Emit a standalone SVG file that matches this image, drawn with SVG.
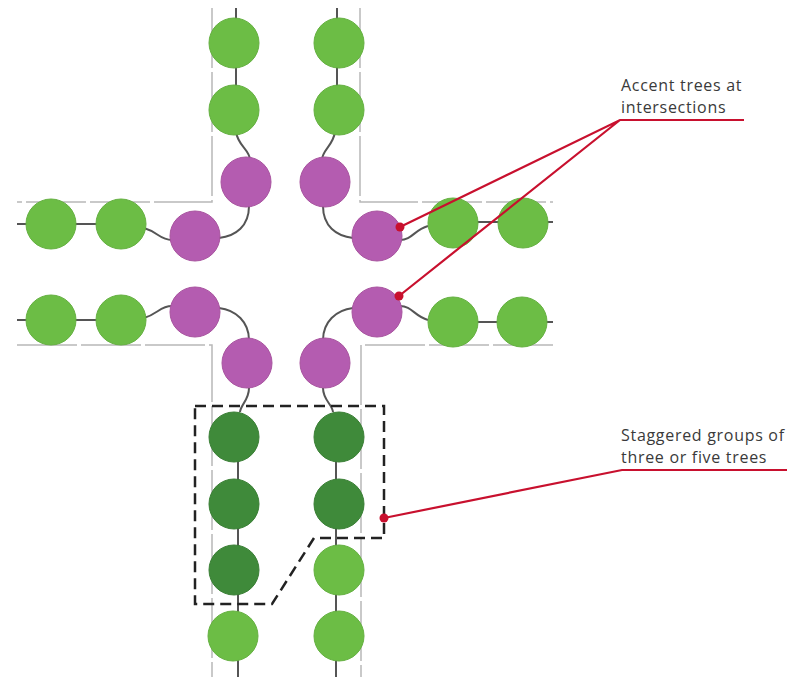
<svg xmlns="http://www.w3.org/2000/svg" width="794" height="677" viewBox="0 0 794 677">
<style>
.road{fill:none;stroke:#b8b8b8;stroke-width:1.5;stroke-dasharray:60 4}
.ln{fill:none;stroke:#555;stroke-width:2}
.g{fill:#6cbd45;stroke:#64b040;stroke-width:1}
.p{fill:#b45cb0;stroke:#a8539f;stroke-width:1}
.d{fill:#3f8a3a;stroke:#3a7f35;stroke-width:1}
.lead{fill:none;stroke:#c8102e;stroke-width:2.2}
.dot{fill:#c8102e}
.lbl{font-family:"Open Sans","Noto Sans",sans-serif;font-size:16px;letter-spacing:0.7px;fill:#3a3a3a}
</style>
<rect width="794" height="677" fill="#fff"/>
<g id="roads">
<path class="road" d="M212,8 V202 H17"/>
<path class="road" d="M360,8 V202 H553"/>
<path class="road" d="M17,345 H212 V677"/>
<path class="road" d="M553,345 H361 V677"/>
</g>
<g id="connectors">
<path class="ln" d="M236,8 V112"/>
<path class="ln" d="M236,132 C238,146 250,150 250,160"/>
<path class="ln" d="M249,206 C249,226 236,236 219,238"/>
<path class="ln" d="M17,224 H121"/>
<path class="ln" d="M144,228 C158,232 160,240 172,240"/>
<path class="ln" d="M337,8 V112"/>
<path class="ln" d="M335,132 C333,146 322,150 322,160"/>
<path class="ln" d="M323,206 C323,226 336,236 353,238"/>
<path class="ln" d="M453,222 H553"/>
<path class="ln" d="M428,226 C414,230 412,240 400,240"/>
<path class="ln" d="M17,320 H121"/>
<path class="ln" d="M144,318 C158,314 160,306 172,306"/>
<path class="ln" d="M219,308 C236,310 249,322 249,340"/>
<path class="ln" d="M249,388 C249,400 241,404 240,412"/>
<path class="ln" d="M238,437 V677"/>
<path class="ln" d="M453,322 H553"/>
<path class="ln" d="M428,320 C414,316 412,306 400,306"/>
<path class="ln" d="M353,308 C336,310 323,322 323,340"/>
<path class="ln" d="M323,388 C323,400 332,404 333,412"/>
<path class="ln" d="M336,437 V677"/>
</g>
<g id="trees-north-left"><circle class="g" cx="234" cy="43" r="25"/><circle class="g" cx="234" cy="110" r="25"/></g>
<g id="trees-north-right"><circle class="g" cx="339" cy="43" r="25"/><circle class="g" cx="339" cy="110" r="25"/></g>
<g id="trees-west-top"><circle class="g" cx="51" cy="224" r="25"/><circle class="g" cx="121" cy="224" r="25"/></g>
<g id="trees-west-bottom"><circle class="g" cx="51" cy="320" r="25"/><circle class="g" cx="121" cy="320" r="25"/></g>
<g id="trees-east-top"><circle class="g" cx="453" cy="223" r="25"/><circle class="g" cx="523" cy="223" r="25"/></g>
<g id="trees-east-bottom"><circle class="g" cx="453" cy="322" r="25"/><circle class="g" cx="522" cy="322" r="25"/></g>
<g id="accent-nw"><circle class="p" cx="246" cy="182" r="25"/><circle class="p" cx="195" cy="236" r="25"/></g>
<g id="accent-ne"><circle class="p" cx="325" cy="182" r="25"/><circle class="p" cx="377" cy="236" r="25"/></g>
<g id="accent-sw"><circle class="p" cx="195" cy="312" r="25"/><circle class="p" cx="247" cy="363" r="25"/></g>
<g id="accent-se"><circle class="p" cx="377" cy="312" r="25"/><circle class="p" cx="325" cy="363" r="25"/></g>
<g id="group-staggered">
<circle class="d" cx="234" cy="437" r="25"/><circle class="d" cx="234" cy="504" r="25"/><circle class="d" cx="234" cy="570" r="25"/>
<circle class="d" cx="339" cy="437" r="25"/><circle class="d" cx="339" cy="504" r="25"/>
<path d="M195,406 H384 V538 H314 L272,604 H195 Z" fill="none" stroke="#222" stroke-width="2.5" stroke-dasharray="11 6"/>
</g>
<g id="trees-south"><circle class="g" cx="339" cy="570" r="25"/><circle class="g" cx="233" cy="636" r="25"/><circle class="g" cx="339" cy="636" r="25"/></g>
<g id="label-accent">
<text class="lbl" x="621" y="91">Accent trees at</text>
<text class="lbl" x="621" y="113">intersections</text>
<path class="lead" d="M744,120 H620 L400,227 M620,120 L399,296"/>
<circle class="dot" cx="400" cy="227" r="4.5"/>
<circle class="dot" cx="399" cy="296" r="4.5"/>
</g>
<g id="label-staggered">
<text class="lbl" x="621" y="441">Staggered groups of</text>
<text class="lbl" x="621" y="463">three or five trees</text>
<path class="lead" d="M787,470 H622 L384,518"/>
<circle class="dot" cx="384" cy="518" r="4.5"/>
</g>
</svg>
